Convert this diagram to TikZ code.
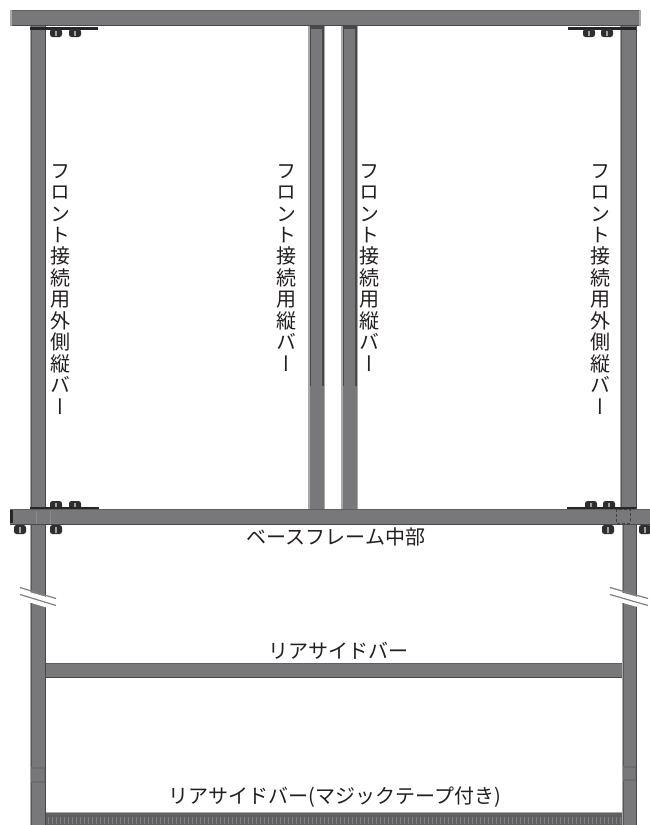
\documentclass[tikz,border=0pt]{standalone}
\usepackage{fontspec}
\setmainfont{Noto Sans CJK JP}
\newfontfamily\vertfont[RawFeature={+vert}]{Noto Sans CJK JP}
\definecolor{barbase}{HTML}{78787B}
\definecolor{barlight}{HTML}{A8A8AA}
\definecolor{bardark}{HTML}{48484A}
\definecolor{inkc}{HTML}{231F20}
\tikzset{
  x=1pt,y=-1pt,
  hlabel/.style={font=\fontsize{20}{22}\selectfont,text=inkc,inner sep=0pt},
  vlabel/.style={font=\vertfont\fontsize{20}{21.45}\selectfont,text=inkc,inner sep=0pt,align=center,anchor=north},
  plate/.style={fill=black!85,draw=none},
  breakmark/.style={draw=black!50,line width=1.2pt},
}
\newcommand{\vbarr}[4]{%
  \fill[barbase] (#1,#3) rectangle (#2,#4);
  \fill[barlight] (#1,#3) rectangle ({#1+1},#4);
  \fill[bardark!70!barbase] ({#1+1},#3) rectangle ({#1+2},#4);
  \fill[bardark] ({#2-1.5},#3) rectangle (#2,#4);
}
\newcommand{\hbarr}[4]{%
  \fill[barbase] (#1,#3) rectangle (#2,#4);
  \fill[bardark!50!barbase] (#1,#3) rectangle (#2,{#3+1.2});
  \fill[bardark] (#1,{#4-1.2}) rectangle (#2,#4);
}
\newcommand{\boltmark}[3]{%
  \fill[black!82,rounded corners=2.5pt] ({#1-6},#2) rectangle ({#1+6},#3);
  \fill[barbase!70] ({#1-1.2},{#2+1.5}) rectangle ({#1+1.2},{#3-1.5});
}
\begin{document}
\begin{tikzpicture}
\useasboundingbox (0,0) rectangle (650,825);
\fill[white] (0,0) rectangle (650,825);
\vbarr{30}{46}{26}{510}
\vbarr{620}{637}{26}{510}
\fill[barbase] (308,26) rectangle (325,510);
\fill[barbase] (341,26) rectangle (358,510);
\fill[barlight] (308,26) rectangle (309.5,510);
\fill[barlight] (341,26) rectangle (342.5,510);
\fill[barlight] (323.5,26) rectangle (325,510);
\fill[barlight] (356.5,26) rectangle (358,510);
\fill[bardark] (309.5,26) rectangle (310.7,386);
\fill[bardark] (322.3,26) rectangle (323.5,386);
\fill[bardark] (342.5,26) rectangle (343.7,386);
\fill[bardark] (355.3,26) rectangle (356.5,386);
\fill[bardark] (309.5,26) rectangle (323.5,28.5);
\fill[bardark] (342.5,26) rectangle (356.5,28.5);
\vbarr{30}{46}{525}{825}
\vbarr{622}{637}{525}{825}
\hbarr{10}{641}{10}{26}
\fill[barlight] (10,10) rectangle (12,26);
\fill[barlight] (639,10) rectangle (641,26);
\fill[plate] (30,27) rectangle (98,30);
\fill[plate] (568,27) rectangle (636,30);
\boltmark{56}{29}{37}
\boltmark{75}{29}{37}
\boltmark{589}{29}{37}
\boltmark{607}{29}{37}
\boltmark{56}{501}{509}
\boltmark{75}{501}{509}
\boltmark{591}{501}{509}
\boltmark{609}{501}{509}
\fill[plate] (30,507) rectangle (99,510);
\fill[plate] (567,507) rectangle (636,510);
\hbarr{10}{650}{509}{525}
\fill[black!85] (10,510) rectangle (13,523);
\boltmark{20}{525}{534}
\boltmark{56}{525}{534}
\boltmark{608}{525}{534}
\boltmark{645}{525}{534}
\draw[black!75,densely dashed,line width=.6pt] (616,509) rectangle (630,523);
\draw[black!45,line width=.6pt] (36,511) -- (36,524) (50,511) -- (50,524);
\hbarr{46}{622}{663}{678}
\fill[barbase!80!black] (46,813) rectangle (622,825);
\fill[barlight] (46,812) rectangle (622,813.2);
\foreach \i in {0,4,...,572}{\fill[black!50] ({48+\i},817) rectangle ({49.3+\i},824);}
\draw[bardark!80,line width=1.2pt] (31.5,768) rectangle (44.5,782);
\draw[bardark!80,line width=1.2pt] (623.5,767) rectangle (635.5,780);
\fill[white] (18,592) -- (55,603) -- (55,610) -- (18,599) -- cycle;
\fill[white] (609,592) -- (648,603) -- (648,610) -- (609,599) -- cycle;
\draw[breakmark] (20,587.5) -- (56,598.5);
\draw[breakmark] (20,594.5) -- (56,605.5);
\draw[breakmark] (610,587.5) -- (648,598.5);
\draw[breakmark] (610,594.5) -- (648,605.5);
\fill[white] (19,589) -- (57,600) -- (57,604) -- (19,593) -- cycle;
\fill[white] (609,589) -- (649,600) -- (649,604) -- (609,593) -- cycle;
\newcommand{\outerlabel}{フ\\ロ\\ン\\ト\\接\\続\\用\\外\\側\\縦\\バ\\ー}
\newcommand{\innerlabel}{フ\\ロ\\ン\\ト\\接\\続\\用\\縦\\バ\\ー}
\node[vlabel] (t1) at (60,164) {\outerlabel};
\node[vlabel] (t2) at (286,164) {\innerlabel};
\node[vlabel] (t3) at (369,164) {\innerlabel};
\node[vlabel] (t4) at (600,164) {\outerlabel};
\node[hlabel] (t5) at (336,537) {ベースフレーム中部};
\node[hlabel] (t6) at (338,651) {リアサイドバー};
\node[hlabel] (t7) at (335,797) {リアサイドバー(マジックテープ付き)};
\end{tikzpicture}
\end{document}
